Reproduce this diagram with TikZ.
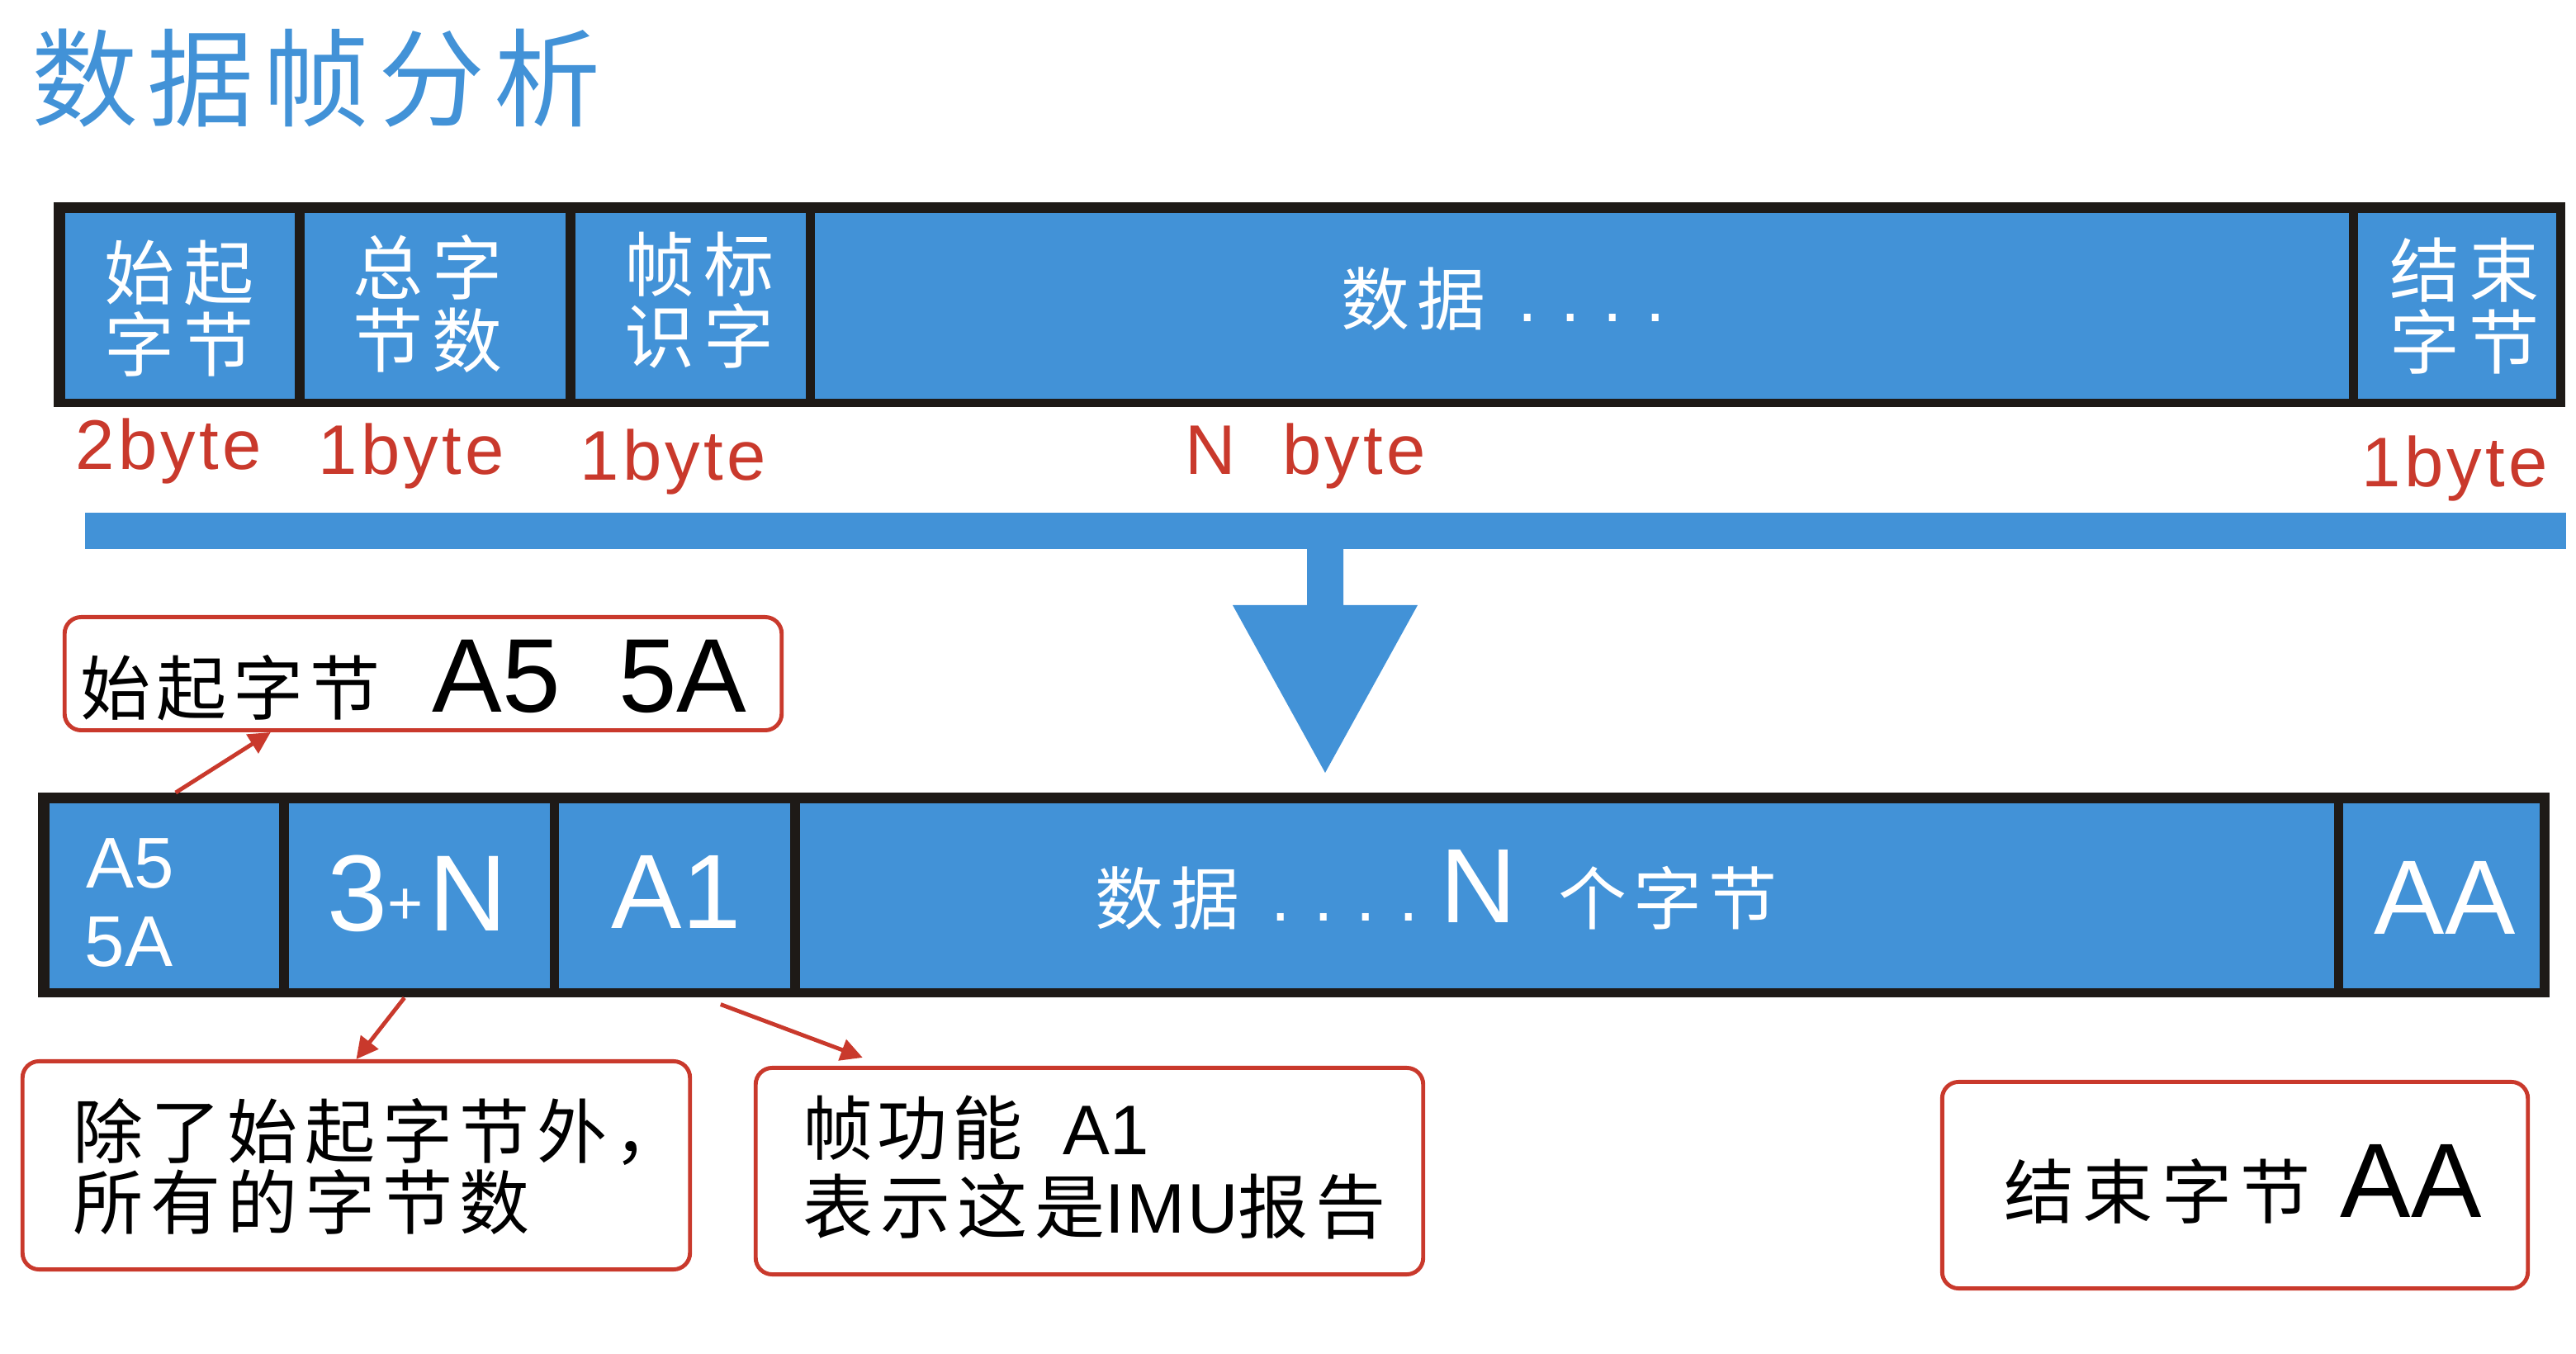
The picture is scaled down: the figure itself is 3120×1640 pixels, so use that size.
\documentclass[tikz,border=0pt]{standalone}
\usepackage{fontspec}
\setmainfont{Liberation Sans}
\newfontfamily\cjk{Noto Sans CJK SC}
\usetikzlibrary{arrows.meta,calc}
\definecolor{fblue}{HTML}{4292D7}
\definecolor{fred}{HTML}{C9392C}
\definecolor{fblack}{HTML}{1E1A17}
\newcommand\fsz[2]{\fontsize{#1}{#2}\selectfont}
\newcommand\cjs[1]{\cjk\addfontfeatures{LetterSpace=#1}}
\begin{document}
\begin{tikzpicture}[x=0.01cm,y=-0.01cm,
  cell/.style={fill=fblue, inner sep=0, anchor=north west, minimum height=2.25cm},
  frame/.style={fill=fblack, inner sep=0, minimum width=30.40cm, minimum height=2.48cm},
  callout/.style={draw=fred, line width=1.4pt, rounded corners=0.2cm, fill=white, inner sep=0},
  lead/.style={draw=fred, line width=1.4pt, -{Triangle[length=7.5pt,width=7.5pt]}},
  wt/.style={text=white, inner sep=0},
  rt/.style={text=fred, inner sep=0, anchor=base west, font=\fsz{24.2pt}{26pt}\addfontfeatures{LetterSpace=5}},
  bt/.style={text=black, inner sep=0},
]
\useasboundingbox (0,0) rectangle (3120,1640);

% title
\node[inner sep=0, text=fblue, font=\cjs{8.5}\fsz{36.7pt}{40pt}] (title) at (383,95) {数据帧分析};

% top frame
\node[frame] (topframe) at (1586,369) {};
\node[cell, minimum width=2.78cm] (t1) at (78,257) {};
\node[cell, minimum width=3.16cm] (t2) at (368,257) {};
\node[cell, minimum width=2.79cm] (t3) at (696,257) {};
\node[cell, minimum width=18.57cm] (t4) at (986,257) {};
\node[cell, minimum width=2.40cm] (t5) at (2855,257) {};

\node[wt, align=center, font=\cjs{12}\fsz{24.2pt}{24.75pt}] (t1txt) at (217,374) {始起\\字节};
\node[wt, align=center, font=\cjs{12}\fsz{24.2pt}{24.75pt}] (t2txt) at (518,368) {总字\\节数};
\node[wt, align=center, font=\cjs{12}\fsz{24.2pt}{24.75pt}] (t3txt) at (847,364) {帧标\\识字};
\node[wt, align=center, font=\cjs{12}\fsz{24.2pt}{24.75pt}] (t5txt) at (2985,371) {结束\\字节};
\node[wt, font=\cjs{10}\fsz{23.6pt}{25pt}] (t4txt) at (1712,362) {数据};
\node[wt, anchor=base west, font=\fsz{24pt}{25pt}] (t4dots) at (1838,390) {.\kern8pt.\kern8pt.\kern8pt.};

% byte labels
\node[rt] (r1) at (91,569) {2byte};
\node[rt] (r2) at (385,575) {1byte};
\node[rt] (r3) at (702,582) {1byte};
\node[rt] (r4) at (1435,575) {N\hspace{16pt}byte};
\node[rt] (r5) at (2860,590) {1byte};

% blue bar and big arrow
\fill[fblue] (103,621) rectangle (3108,665);
\fill[fblue] (1583,664) -- (1627,664) -- (1627,733) -- (1717,733) -- (1605,936) -- (1493,733) -- (1583,733) -- cycle;

% bottom frame
\node[frame] (botframe) at (1567,1084) {};
\node[cell, minimum height=2.24cm, minimum width=2.78cm] (b1) at (59,972) {};
\node[cell, minimum height=2.24cm, minimum width=3.16cm] (b2) at (349,972) {};
\node[cell, minimum height=2.24cm, minimum width=2.80cm] (b3) at (676,972) {};
\node[cell, minimum height=2.24cm, minimum width=18.57cm] (b4) at (968,972) {};
\node[cell, minimum height=2.24cm, minimum width=2.38cm] (b5) at (2837,972) {};

\node[wt, anchor=base west, font=\fsz{24.75pt}{27pt}] (b1a) at (104,1075) {A5};
\node[wt, anchor=base west, font=\fsz{24.75pt}{27pt}] (b1b) at (102,1170) {5A};
\node[wt, anchor=base west, font=\fsz{37.3pt}{40pt}] (b2txt) at (396,1127) {3\raisebox{2pt}{\fsz{21pt}{22pt}+}\kern2pt N};
\node[wt, anchor=base west, font=\fsz{36.4pt}{40pt}] (b3txt) at (740,1124) {A1};
\node[wt, font=\cjs{10}\fsz{23.6pt}{25pt}] (b4a) at (1414,1088) {数据};
\node[wt, anchor=base west, font=\fsz{24pt}{25pt}] (b4dots) at (1539,1116) {.\kern8pt.\kern8pt.\kern8pt.};
\node[wt, anchor=base west, font=\fsz{36.4pt}{40pt}] (b4n) at (1744,1117) {N};
\node[wt, font=\cjs{10}\fsz{23.6pt}{25pt}] (b4b) at (2020,1088) {个字节};
\node[wt, anchor=base west, font=\fsz{36.4pt}{40pt}] (b5txt) at (2875,1132) {AA};

% callouts
\node[callout, minimum width=8.68cm, minimum height=1.37cm] (c1) at (512.5,816) {};
\node[bt, font=\cjs{9}\fsz{24.2pt}{26pt}] (c1a) at (279,833) {始起字节};
\node[bt, anchor=base west, font=\fsz{36.1pt}{40pt}] (c1b) at (523,863) {A5\hspace{20pt}5A};

\node[callout, minimum width=8.08cm, minimum height=2.52cm] (c2) at (431.5,1411.5) {};
\node[bt, anchor=west, align=left, font=\cjs{10}\fsz{24.2pt}{24.5pt}] (c2txt) at (88,1413) {除了始起字节外，\\所有的字节数};

\node[callout, minimum width=8.08cm, minimum height=2.50cm] (c3) at (1319.5,1418.5) {};
\node[bt, anchor=west, align=left, font=\fsz{24.2pt}{27pt}] (c3txt) at (972,1414) {{\cjs{6}帧功能}\hspace{14pt}A1\\{\cjs{10}表示这是}{\addfontfeatures{LetterSpace=3}IMU}{\cjs{10}报告}};

\node[callout, minimum width=7.09cm, minimum height=2.50cm] (c4) at (2707,1435.5) {};
\node[bt, font=\cjs{12}\fsz{24.2pt}{26pt}] (c4a) at (2613,1443) {结束字节};
\node[bt, anchor=base west, font=\fsz{36.4pt}{40pt}] (c4b) at (2834,1474) {AA};

% leaders
\draw[lead] ($(b1.north)+(14,-12)$) -- ($(c1.south west)+(252,0)$);
\draw[lead] ($(b2.south)+(-18,11)$) -- (c2.north);
\draw[lead] ($(b3.south)+(56,19)$) -- ($(c3.north west)+(132,-10)$);
\end{tikzpicture}
\end{document}
